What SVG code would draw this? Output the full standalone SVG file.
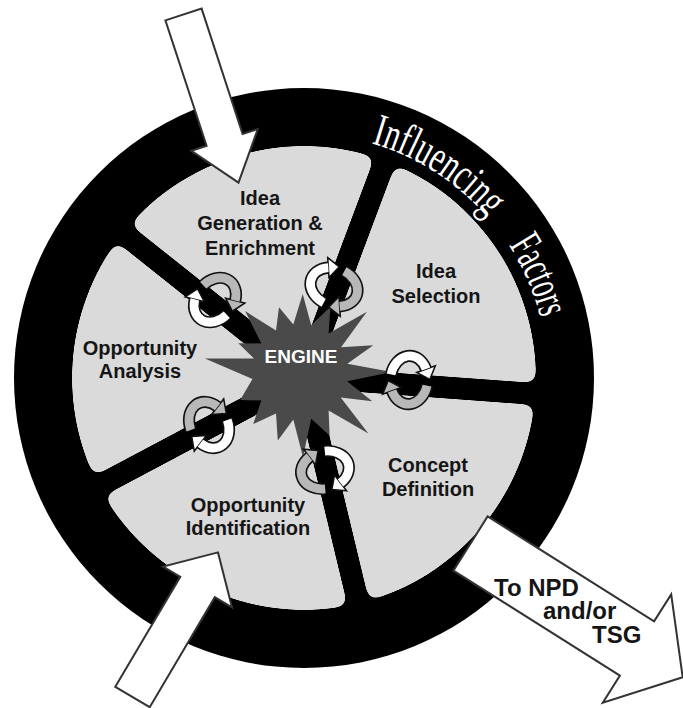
<svg xmlns="http://www.w3.org/2000/svg" width="683" height="708" viewBox="0 0 683 708">
<style>
.lbl{font-family:"Liberation Sans",Arial,sans-serif;font-weight:bold;font-size:20px;fill:#151515;text-anchor:middle}
.eng{font-family:"Liberation Sans",Arial,sans-serif;font-weight:bold;font-size:19px;fill:#fff;text-anchor:middle}
.npd{font-family:"Liberation Sans",Arial,sans-serif;font-weight:bold;font-size:24px;fill:#151515}
.infl{font-family:"Liberation Serif","Times New Roman",serif;font-size:46px;fill:#fff}
.sector{fill:#dadada}
.big{fill:#fff;stroke:#333;stroke-width:2;stroke-linejoin:miter}
.lk{fill:none;stroke:#111;stroke-width:11}
.lw{fill:none;stroke:#fff;stroke-width:8}
.lg{fill:none;stroke:#b8b8b8;stroke-width:8}
.hw{fill:#fff;stroke:#111;stroke-width:1.4}
.hg{fill:#b8b8b8;stroke:#111;stroke-width:1.4}
</style>
<defs>
<clipPath id="disc"><circle cx="304" cy="378" r="232"/></clipPath>
<filter id="round" x="-10%" y="-10%" width="120%" height="120%" color-interpolation-filters="sRGB">
<feGaussianBlur in="SourceAlpha" stdDeviation="6"/>
<feComponentTransfer result="a"><feFuncA type="linear" slope="24" intercept="-11.5"/></feComponentTransfer>
<feFlood flood-color="#dadada"/>
<feComposite in2="a" operator="in"/>
</filter>
<g id="loop">
<path class="lk" d="M -16.74 -3.82 A 17 22 0 0 1 14.72 -11.0"/>
<polygon class="hw" points="22.94,-14.67 18.8,-1.87 6.5,-7.33"/>
<path class="lw" d="M -16.74 -3.82 A 17 22 0 0 1 14.72 -11.0"/>
<path class="lk" d="M 16.74 3.82 A 17 22 0 0 1 -14.72 11.0"/>
<polygon class="hg" points="-6.5,7.33 -18.8,1.87 -22.94,14.67"/>
<path class="lg" d="M 16.74 3.82 A 17 22 0 0 1 -14.72 11.0"/>
</g>
<path id="ifPath1" d="M 371.2 143.4 A 244 244 0 0 1 488.1 217.9"/>
<path id="ifPath2" d="M 508.6 245.1 A 244 244 0 0 1 540.8 319.0"/>
</defs>

<g id="ring">
<circle cx="304" cy="378" r="290" fill="#000"/>
<text class="infl"><textPath href="#ifPath1" textLength="140" lengthAdjust="spacingAndGlyphs">Influencing</textPath></text>
<text class="infl"><textPath href="#ifPath2" textLength="80" lengthAdjust="spacingAndGlyphs">Factors</textPath></text>
</g>

<g id="sectors">
<g id="idea-selection" filter="url(#round)"><polygon class="sector" clip-path="url(#disc)" points="304,377 323.1,357.4 419.5,99.9 640.6,160.9 604.0,388.0 329.8,367.9"/></g>
<g id="concept-definition" filter="url(#round)"><polygon class="sector" clip-path="url(#disc)" points="304,377 328.1,389.8 602.4,410.0 608.6,636.2 384.7,666.1 320.5,398.7"/></g>
<g id="opportunity-identification" filter="url(#round)"><polygon class="sector" clip-path="url(#disc)" points="304,377 299.1,403.9 363.3,671.3 140.0,741.8 44.2,527.4 287.1,398.5"/></g>
<g id="opportunity-analysis" filter="url(#round)"><polygon class="sector" clip-path="url(#disc)" points="304,377 276.8,379.0 33.8,508.0 -94.4,340.8 62.4,198.8 277.6,370.1"/></g>
<g id="idea-generation" filter="url(#round)"><polygon class="sector" clip-path="url(#disc)" points="304,377 291.3,352.8 76.1,181.6 197.1,-8.4 398.9,92.1 302.5,349.7"/></g>
</g>

<g id="engine">
<polygon fill="#4a4a4a" points="392,372 347.1,381.2 372.3,401.2 340.7,397.4 368.4,433.6 328.6,410.6 329.6,435.4 311.2,418.7 303,456.9 293.3,419.5 277.8,440.5 276,413.6 253.2,424 261.4,400.6 240.2,399.9 252.5,379.1 204.9,358.6 254,358.4 238.4,343.3 261.4,343.4 245.1,311.1 276,330.4 279,307.3 293.3,324.5 302.7,294 311.2,325.3 330.4,306.7 328.6,333.4 366.9,311.8 341.1,347.3 373.3,345.3 347.3,363.7"/>
<text class="eng" x="301" y="363">ENGINE</text>
</g>

<g id="engine-loops">
<use href="#loop" transform="translate(215,300) rotate(218.5) scale(1.1)"/>
<use href="#loop" transform="translate(334,287) rotate(290.5) scale(1.1)"/>
<use href="#loop" transform="translate(409,380) rotate(4.2) scale(1.1)"/>
<use href="#loop" transform="translate(325,470) rotate(76.5) scale(1.1)"/>
<use href="#loop" transform="translate(209,425) rotate(152) scale(1.1)"/>
</g>

<g id="connectors">
<polygon id="input-top" class="big" points="165.4,20.4 201.6,8.6 242.6,134.0 257.8,129.0 238.5,182.7 191.4,150.8 206.6,145.8"/>
<polygon id="input-bottom" class="big" points="115.3,686.8 180.3,576.8 163.1,566.6 218,552.4 232,607.4 214.8,597.2 149.7,707.2"/>
<polygon id="output-npd" class="big" points="487.6,516.4 654.1,621.4 671.2,594.4 682.7,677.3 602.8,702.6 619.9,675.6 453.4,570.6"/>
</g>

<g id="labels">
<g id="lbl-idea-generation"><text class="lbl" x="260" y="205">Idea</text><text class="lbl" x="260" y="230">Generation &amp;</text><text class="lbl" x="260" y="255">Enrichment</text></g>
<g id="lbl-idea-selection"><text class="lbl" x="436" y="278">Idea</text><text class="lbl" x="436" y="303">Selection</text></g>
<g id="lbl-opportunity-analysis"><text class="lbl" x="140" y="355">Opportunity</text><text class="lbl" x="140" y="378">Analysis</text></g>
<g id="lbl-opportunity-identification"><text class="lbl" x="248" y="512">Opportunity</text><text class="lbl" x="248" y="535">Identification</text></g>
<g id="lbl-concept-definition"><text class="lbl" x="428" y="472">Concept</text><text class="lbl" x="428" y="496">Definition</text></g>
<g id="lbl-npd"><text class="npd" x="494" y="596">To NPD</text><text class="npd" x="543" y="619">and/or</text><text class="npd" x="592" y="643">TSG</text></g>
</g>
</svg>
